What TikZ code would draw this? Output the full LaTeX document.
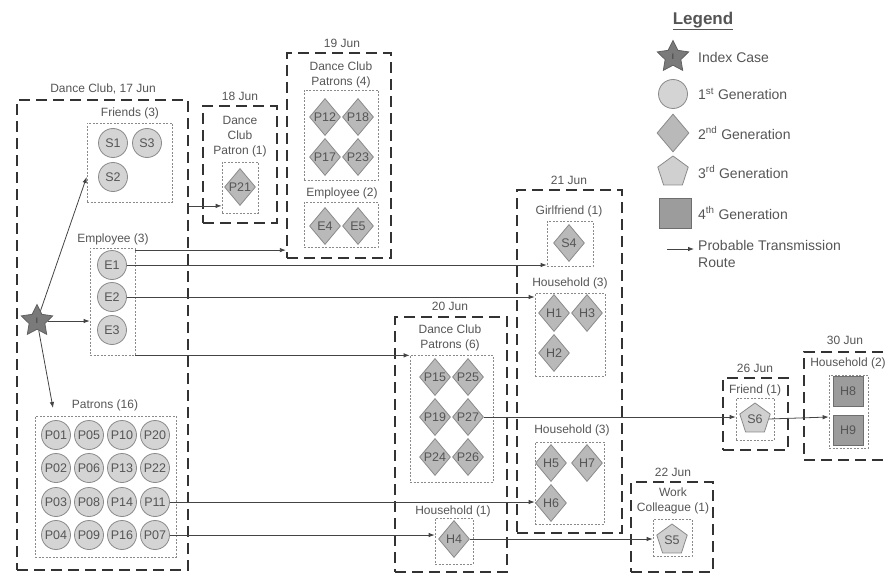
\documentclass[tikz,border=0pt]{standalone}
\usepackage{fontspec}
\setmainfont{Liberation Sans}
\usetikzlibrary{shapes.geometric,arrows.meta}
\definecolor{txt}{HTML}{555555}
\definecolor{dk}{HTML}{333333}
\definecolor{ln}{HTML}{444444}
\definecolor{bd}{HTML}{8A8A8A}
\definecolor{cone}{HTML}{D4D4D4}
\definecolor{ctwo}{HTML}{B9B9B9}
\definecolor{cthree}{HTML}{D0D0D0}
\definecolor{cfour}{HTML}{9C9C9C}
\definecolor{cstar}{HTML}{7A7A7A}
\begin{document}
\begin{tikzpicture}[x=1pt,y=-1pt,
  datebox/.style={rectangle, draw=dk, line width=2.3pt, dash pattern=on 11pt off 6pt, inner sep=0pt},
  grp/.style={rectangle, draw=bd, line width=0.7pt, dash pattern=on 2pt off 1.5pt, inner sep=0pt},
  lbl/.style={text=txt, font=\fontsize{12}{15}\selectfont, align=center, inner sep=0pt},
  leg/.style={text=txt, font=\fontsize{14}{17}\selectfont, align=left, anchor=west, inner sep=0pt},
  genone/.style={circle, draw=bd, line width=0.8pt, fill=cone, minimum size=29pt, inner sep=0pt, text=txt, font=\fontsize{12.5}{14}\selectfont},
  gentwo/.style={diamond, draw=bd, line width=0.8pt, fill=ctwo, minimum width=31pt, minimum height=37pt, inner sep=0pt, text=txt, font=\fontsize{12.5}{14}\selectfont},
  genthree/.style={regular polygon, regular polygon sides=5, draw=bd, line width=0.8pt, fill=cthree, minimum size=32pt, inner sep=0pt, text=txt, font=\fontsize{12.5}{14}\selectfont},
  genfour/.style={rectangle, draw=bd!80!black, line width=0.8pt, fill=cfour, minimum width=30pt, minimum height=30pt, inner sep=0pt, text=txt, font=\fontsize{12.5}{14}\selectfont},
  idx/.style={star, star points=5, star point ratio=2.0, draw=bd!70!black, line width=0.8pt, fill=cstar, minimum size=33pt, inner sep=0pt, text=dk, font=\fontsize{8}{9}\selectfont},
  arr/.style={draw=ln, line width=0.8pt, -{Latex[length=6pt,width=4.5pt]}}]
\useasboundingbox (0,0) rectangle (886,575);
\clip (0,0) rectangle (886,575);

% ---------- date boxes ----------
\node[datebox, minimum width=171pt, minimum height=470pt] (dc) at (102.5,335) {};
\node[datebox, minimum width=74pt, minimum height=117pt] (d18) at (240,164.5) {};
\node[datebox, minimum width=104pt, minimum height=205pt] (d19) at (339,155.5) {};
\node[datebox, minimum width=112pt, minimum height=255pt] (d20) at (451,444.5) {};
\node[datebox, minimum width=105pt, minimum height=343pt] (d21) at (569.5,361.5) {};
\node[datebox, minimum width=82pt, minimum height=90pt] (d22) at (672,527) {};
\node[datebox, minimum width=65pt, minimum height=72pt] (d26) at (755.5,414) {};
\node[datebox, minimum width=96pt, minimum height=108pt] (d30) at (852,406) {};

% ---------- group boxes ----------
\node[grp, minimum width=85pt, minimum height=79pt] (friendsbox) at (129.5,162.5) {};
\node[grp, minimum width=45pt, minimum height=107pt] (empbox) at (112.5,301.5) {};
\node[grp, minimum width=141pt, minimum height=141pt] (patbox) at (105.5,486.5) {};
\node[grp, minimum width=36pt, minimum height=51pt] (p21box) at (240,187.5) {};
\node[grp, minimum width=74pt, minimum height=90pt] (p4box) at (341,135) {};
\node[grp, minimum width=74pt, minimum height=45pt] (e45box) at (341,224.5) {};
\node[grp, minimum width=83pt, minimum height=127pt] (p6box) at (451.5,418.5) {};
\node[grp, minimum width=38pt, minimum height=46pt] (h4box) at (454,541) {};
\node[grp, minimum width=46pt, minimum height=45pt] (s4box) at (570,243.5) {};
\node[grp, minimum width=70pt, minimum height=83pt] (hbox1) at (570,334.5) {};
\node[grp, minimum width=69pt, minimum height=82pt] (hbox2) at (569.5,483) {};
\node[grp, minimum width=39pt, minimum height=37pt] (s5box) at (672.5,537.5) {};
\node[grp, minimum width=38pt, minimum height=42pt] (s6box) at (755,419) {};
\node[grp, minimum width=39pt, minimum height=73pt] (h89box) at (848.5,411.5) {};

% ---------- labels ----------
\node[lbl] (t17) at (103,89) {Dance Club, 17 Jun};
\node[lbl] (tfr) at (130,113) {Friends (3)};
\node[lbl] (temp) at (113,239) {Employee (3)};
\node[lbl] (tpat) at (105,405) {Patrons (16)};
\node[lbl] (t18) at (240,96) {18 Jun};
\node[lbl] (t18b) at (240,137) {Dance\\Club\\Patron (1)};
\node[lbl] (t19) at (342,43) {19 Jun};
\node[lbl] (t19b) at (341,74.5) {Dance Club\\Patrons (4)};
\node[lbl] (t19c) at (342,193) {Employee (2)};
\node[lbl] (t20) at (450,306) {20 Jun};
\node[lbl] (t20b) at (450,337.5) {Dance Club\\Patrons (6)};
\node[lbl] (t20c) at (453,511) {Household (1)};
\node[lbl] (t21) at (569,180) {21 Jun};
\node[lbl] (t21b) at (569,211) {Girlfriend (1)};
\node[lbl] (t21c) at (570,283) {Household (3)};
\node[lbl] (t21d) at (572,430) {Household (3)};
\node[lbl] (t22) at (673,472) {22 Jun};
\node[lbl] (t22b) at (673,500.5) {Work\\Colleague (1)};
\node[lbl] (t26) at (755,368) {26 Jun};
\node[lbl] (t26b) at (755,390) {Friend (1)};
\node[lbl] (t30) at (845,340) {30 Jun};
\node[lbl] (t30b) at (848,363) {Household (2)};

% ---------- cases ----------
\node[idx] (star) at (37,321) {I};
\node[genone] (s1) at (113,143) {S1};
\node[genone] (s3) at (147,143) {S3};
\node[genone] (s2) at (113,177) {S2};
\node[genone] (e1) at (112,265) {E1};
\node[genone] (e2) at (112,297) {E2};
\node[genone] (e3) at (112,330) {E3};
\foreach \n/\c/\r in {P01/56/435,P05/89/435,P10/122/435,P20/155/435,
                      P02/56/468,P06/89/468,P13/122/468,P22/155/468,
                      P03/56/502,P08/89/502,P14/122/502,P11/155/502,
                      P04/56/535,P09/89/535,P16/122/535,P07/155/535}
  \node[genone] (\n) at (\c,\r) {\n};
\node[gentwo] (p21) at (240,187) {P21};
\node[gentwo] (p12) at (325,117) {P12};
\node[gentwo] (p18) at (358,117) {P18};
\node[gentwo] (p17) at (325,157) {P17};
\node[gentwo] (p23) at (358,157) {P23};
\node[gentwo] (e4) at (325,226) {E4};
\node[gentwo] (e5) at (358,226) {E5};
\node[gentwo] (p15) at (435,377) {P15};
\node[gentwo] (p25) at (468,377) {P25};
\node[gentwo] (p19) at (435,417) {P19};
\node[gentwo] (p27) at (468,417) {P27};
\node[gentwo] (p24) at (435,457) {P24};
\node[gentwo] (p26) at (468,457) {P26};
\node[gentwo] (h4) at (454,539) {H4};
\node[gentwo] (s4) at (569,243) {S4};
\node[gentwo] (h1) at (554,313) {H1};
\node[gentwo] (h3) at (587,313) {H3};
\node[gentwo] (h2) at (554,353) {H2};
\node[gentwo] (h5) at (551,463) {H5};
\node[gentwo] (h7) at (587,463) {H7};
\node[gentwo] (h6) at (551,503) {H6};
\node[genthree] (s5) at (672,540) {S5};
\node[genthree] (s6) at (755,419) {S6};
\node[genfour] (h8) at (848,391) {H8};
\node[genfour] (h9) at (848,430) {H9};

% ---------- transmission routes ----------
\coordinate (ptip) at (53,408);
\draw[arr] (star) -- (friendsbox.west |- s2.center);
\draw[arr] (star.east) -- (empbox.west |- star.east);
\draw[arr] (star) -- (ptip);
\draw[arr] (dc.east |- p21.south) -- (p21box.west |- p21.south);
\draw[arr] (empbox.east |- e1.north) -- (d19.west |- e1.north);
\draw[arr] (e1.east) -- (s4box.west |- e1.east);
\draw[arr] (e2.east) -- (hbox1.west |- e2.east);
\draw[arr] (empbox.south east) -- (p6box.west |- empbox.south east);
\draw[arr] (P11.east) -- (hbox2.west |- P11.east);
\draw[arr] (P07.east) -- (h4box.west |- P07.east);
\draw[arr] (h4.east) -- (s5box.west |- h4.east);
\draw[arr] (p27.east) -- (s6box.west |- p27.east);
\draw[arr] (s6.east) -- (h89box.west |- p27.east);

% ---------- legend ----------
\node[text=txt, font=\fontsize{17}{20}\selectfont\bfseries, inner sep=0pt] (legt) at (703,21) {\underline{Legend}};
\node[idx] (lstar) at (673,57) {I};
\node[leg] (l0) at (698,57) {Index Case};
\node[genone] (lc) at (673,94) {};
\node[leg] (l1) at (698,94) {1\textsuperscript{st} Generation};
\node[gentwo, minimum width=32pt, minimum height=38pt] (ld) at (673,133) {};
\node[leg] (l2) at (698,133) {2\textsuperscript{nd} Generation};
\node[genthree] (lp) at (673,172) {};
\node[leg] (l3) at (698,172) {3\textsuperscript{rd} Generation};
\node[genfour, minimum width=32pt] (lsq) at (675,213) {};
\node[leg] (l4) at (698,213) {4\textsuperscript{th} Generation};
\node[leg, anchor=north west] (l5) at (698,240) {Probable Transmission\\Route};
\coordinate (la) at (667,249);
\draw[arr] (la) -- ([xshift=-4pt]l5.west |- la);
\end{tikzpicture}
\end{document}
